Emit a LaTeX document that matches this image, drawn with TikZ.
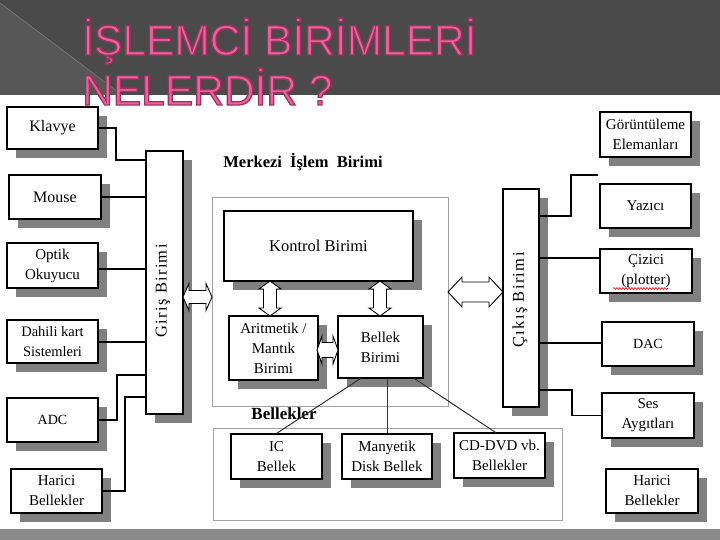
\documentclass[tikz,border=0pt]{standalone}
\usepackage{fontspec}
\setmainfont{Liberation Serif}
\newfontfamily\titlefont{Liberation Sans}
\usetikzlibrary{shadows,decorations.pathmorphing,calc}
\definecolor{band}{HTML}{4A4A4A}
\definecolor{bandlight}{HTML}{575757}
\definecolor{bandline}{HTML}{7C7C7C}
\definecolor{bottomband}{HTML}{8A8A8A}
\definecolor{shadowgray}{HTML}{808080}
\definecolor{grpgray}{HTML}{A0A0A0}
\definecolor{titlepink}{HTML}{F2609C}
\newcommand\hdarr[6]{% cx cy halflen shafthalf headhalf headlen
  \draw[blockarr] (#1-#3,#2) -- ++(#6,-#5) -- ++(0,#5-#4) -- ++(2*#3-2*#6,0)
    -- ++(0,-#5+#4) -- ++(#6,#5) -- ++(-#6,#5) -- ++(0,-#5+#4)
    -- ++(-2*#3+2*#6,0) -- ++(0,#5-#4) -- cycle;}
\newcommand\vdarr[6]{% cx cy halflen shafthalf headhalf headlen
  \draw[blockarr] (#1,#2-#3) -- ++(-#5,#6) -- ++(#5-#4,0) -- ++(0,2*#3-2*#6)
    -- ++(-#5+#4,0) -- ++(#5,#6) -- ++(#5,-#6) -- ++(-#5+#4,0)
    -- ++(0,-2*#3+2*#6) -- ++(#5-#4,0) -- cycle;}
\newcommand\outlinedtext[1]{\special{pdf:literal direct 2 Tr 1.3 w 0.62 0.20 0.38 RG}#1\special{pdf:literal direct 0 Tr}}
\begin{document}
\begin{tikzpicture}[x=1pt,y=-1pt,
  box/.style={draw=black, line width=1.1pt, fill=white, inner sep=1pt, align=center,
    font=\fontsize{15}{20}\selectfont,
    drop shadow={shadow xshift=9pt, shadow yshift=-9pt, fill=shadowgray, opacity=1}},
  grp/.style={draw=grpgray, line width=0.9pt},
  conn/.style={draw=black, line width=1.1pt},
  thinconn/.style={draw=black!80, line width=1pt},
  blockarr/.style={draw=black, line width=0.9pt, fill=white, line join=miter},
  ttl/.style={anchor=base west, inner sep=0pt, font=\titlefont\fontsize{42.5}{50}\selectfont},
  rottext/.style={rotate=90, inner sep=0pt, font=\fontsize{16.5}{20}\selectfont\addfontfeature{LetterSpace=8}}
]
\useasboundingbox (0,0) rectangle (720,540);
% background
\fill[white] (0,0) rectangle (720,540);
\fill[band] (0,0) rectangle (720,95);
\fill[bandlight] (0,3) -- (122,95) -- (0,95) -- cycle;
\draw[bandline, line width=0.6pt] (0,3) -- (122,95);
\fill[bottomband] (0,529) rectangle (720,540);

% group frames
\node[grp, minimum width=236, minimum height=209] (mib) at (330,301.5) {};
\node[grp, minimum width=349, minimum height=92] (bgrp) at (387.5,474) {};

% labels
\node[inner sep=0pt, font=\fontsize{16.5}{20}\selectfont\bfseries] (mibl) at (303,162) {Merkezi\hspace{4pt} İşlem\hspace{4pt} Birimi};
\node[inner sep=0pt, font=\fontsize{17}{20}\selectfont\bfseries] (bell) at (284,414) {Bellekler};

% input devices
\node[box, minimum width=91, minimum height=42, font=\fontsize{16}{20}\selectfont] (klavye) at (52.5,128) {Klavye};
\node[box, minimum width=92, minimum height=44, font=\fontsize{16}{20}\selectfont] (mouse) at (55,197) {Mouse};
\node[box, minimum width=91, minimum height=45] (optik) at (52.5,265.5) {Optik\\Okuyucu};
\node[box, minimum width=91, minimum height=43, font=\fontsize{14.5}{20}\selectfont] (dahili) at (52.5,341.5) {Dahili kart\\Sistemleri};
\node[box, minimum width=91, minimum height=44, font=\fontsize{14}{20}\selectfont] (adc) at (52.5,420) {ADC};
\node[box, minimum width=91, minimum height=44] (harici1) at (56.5,491) {Harici\\Bellekler};

% input / output bars
\node[box, minimum width=37, minimum height=263] (giris) at (164.5,282.5) {};
\node[rottext] (girist) at (163,291) {Giriş Birimi};
\node[box, minimum width=36, minimum height=218] (cikis) at (521,298) {};
\node[rottext] (cikist) at (520,300) {Çıkış Birimi};

% CPU
\node[box, minimum width=189, minimum height=70, font=\fontsize{16.5}{20}\selectfont] (kontrol) at (318.5,246) {Kontrol Birimi};
\node[box, minimum width=89, minimum height=64] (alu) at (273.5,348) {Aritmetik /\\Mantık\\Birimi};
\node[box, minimum width=85, minimum height=62] (bellek) at (380.5,347) {Bellek\\Birimi};

% memories
\node[box, minimum width=91, minimum height=45] (ic) at (276.5,456.5) {IC\\Bellek};
\node[box, minimum width=90, minimum height=45] (many) at (387,456.5) {Manyetik\\Disk Bellek};
\node[box, minimum width=91, minimum height=45] (cddvd) at (499.5,455.5) {CD-DVD vb.\\Bellekler};

% output devices
\node[box, minimum width=91, minimum height=45] (goru) at (645.5,134.5) {Görüntüleme\\Elemanları};
\node[box, minimum width=91, minimum height=44] (yazici) at (645.5,206) {Yazıcı};
\node[box, minimum width=92, minimum height=44] (cizici) at (646,271) {Çizici\\(plotter)};
\node[box, minimum width=92, minimum height=44, font=\fontsize{14}{20}\selectfont] (dac) at (648,344) {DAC};
\node[box, minimum width=92, minimum height=45] (ses) at (648,415.5) {Ses\\Aygıtları};
\node[box, minimum width=92, minimum height=44] (harici2) at (652,491) {Harici\\Bellekler};

% spell-check underline
\draw[red, line width=0.6pt, decorate, decoration={snake, amplitude=0.9pt, segment length=3pt}] (613,288.5) -- (668,288.5);

% input connectors
\coordinate (k1) at (116,160);
\draw[conn] (klavye.east) -| (k1) -- (k1 -| giris.west);
\draw[conn] (mouse.east) -- (mouse.east -| giris.west);
\coordinate (o1) at (100,269);
\draw[conn] (o1 -| optik.east) -- (o1 -| giris.west);
\coordinate (d1) at (100,342);
\draw[conn] (d1 -| dahili.east) -- (d1 -| giris.west);
\coordinate (a1) at (117,375);
\draw[conn] (adc.east) -| (a1) -- (a1 -| giris.west);
\coordinate (h1) at (125,397);
\draw[conn] (harici1.east) -| (h1) -- (h1 -| giris.west);

% output connectors
\coordinate (c1) at (571,216);
\coordinate (g1) at (571,175);
\coordinate (gend) at (598,175);
\draw[conn] (c1 -| cikis.east) -- (c1) -- (g1) -- (gend);
\coordinate (c2) at (570,258);
\draw[conn] (c2 -| cikis.east) -- (c2 -| cizici.west);
\coordinate (c3) at (570,343);
\draw[conn] (c3 -| cikis.east) -- (c3 -| dac.west);
\coordinate (s1) at (572,390);
\draw[conn] (s1 -| cikis.east) -- (s1) |- (ses.west);

% memory connectors
\draw[thinconn] ($(bellek.south)+(-20,0)$) -- (ic.north);
\draw[thinconn] (bellek.south -| many.north) -- (many.north);
\draw[thinconn] ($(bellek.south)+(34,0)$) -- ($(cddvd.north)+(-4,0)$);

% block arrows
\hdarr{197.5}{297}{14.5}{6.5}{13.5}{6}
\hdarr{475.5}{292}{27.5}{10}{15}{14}
\vdarr{270}{298.5}{17.5}{6.5}{11}{8}
\vdarr{380}{298.5}{17.5}{6.5}{11}{8}
\hdarr{327.5}{350}{10.5}{7.5}{14}{5}

% title (drawn last: outlined text)
\node[ttl, text=titlepink] (title1) at (82,55) {\outlinedtext{İŞLEMCİ BİRİMLERİ}};
\node[ttl, text=titlepink] (title2) at (82,105) {\outlinedtext{NELERDİR ?}};
\end{tikzpicture}
\end{document}
